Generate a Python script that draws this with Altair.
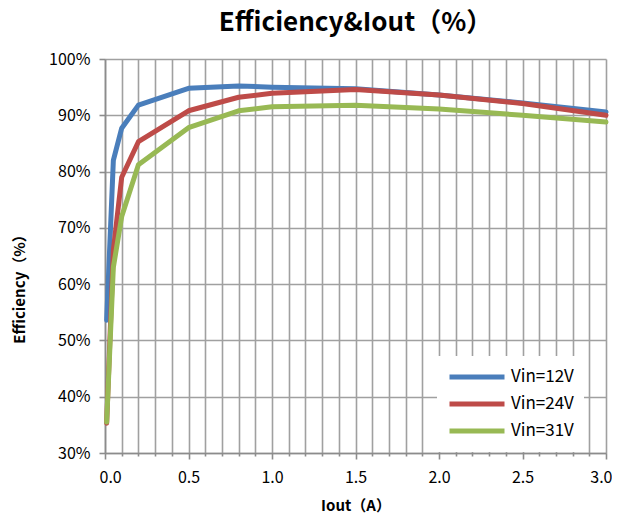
import altair as alt
import pandas as pd

iout = [0.01, 0.05, 0.1, 0.2, 0.5, 0.8, 1.0, 1.5, 2.0, 2.5, 3.0]
eff_12v = [53.6, 82.0, 87.7, 91.8, 94.8, 95.2, 95.0, 94.7, 93.6, 92.2, 90.6]
eff_24v = [35.3, 66.0, 79.0, 85.3, 90.8, 93.2, 93.9, 94.6, 93.6, 92.1, 90.0]
eff_31v = [35.5, 63.0, 72.0, 81.2, 87.8, 90.8, 91.5, 91.8, 91.1, 90.0, 88.8]
series = ["Vin=12V", "Vin=24V", "Vin=31V"]
colors = ["#4A7EBB", "#BE4B48", "#98B954"]

x_ticks = [round(i * 0.1, 1) for i in range(31)]
y_ticks = [30, 40, 50, 60, 70, 80, 90, 100]

rows = []
for name, vals in zip(series, [eff_12v, eff_24v, eff_31v]):
    for xv, yv in zip(iout, vals):
        rows.append({"Iout": xv, "Eff": yv, "Series": name})
df = pd.DataFrame(rows)

FONT = "Noto Sans CJK SC"
GRID = "#A0A0A0"

chart = alt.Chart(df).mark_line(strokeWidth=5, strokeCap="round", strokeJoin="round").encode(
    x=alt.X("Iout:Q",
            scale=alt.Scale(domain=[0, 3], nice=False, zero=False),
            axis=alt.Axis(values=x_ticks,
                          labelExpr="abs(datum.value*2 - round(datum.value*2)) < 0.001 ? format(datum.value, '.1f') : ''",
                          title="Iout（A）",
                          grid=True, gridColor=GRID, gridWidth=1.6,
                          domainColor="#8C8C8C", domainWidth=1.6,
                          tickColor="#8C8C8C", tickWidth=1.6,
                          tickSize={"condition": {"test": "abs(datum.value*2 - round(datum.value*2)) < 0.001", "value": 6}, "value": 3},
                          labelFont=FONT, labelFontSize=16, labelColor="#000000", labelPadding=10,
                          labelFlush=True, labelFlushOffset=6, labelOverlap=False,
                          titleFont=FONT, titleFontSize=15, titleFontWeight="bold", titleColor="#000000",
                          titlePadding=13)),
    y=alt.Y("Eff:Q",
            scale=alt.Scale(domain=[30, 100], nice=False, zero=False),
            axis=alt.Axis(values=y_ticks,
                          labelExpr="datum.value + '%'",
                          title="Efficiency（%）",
                          grid=True, gridColor=GRID, gridWidth=1.6,
                          domainColor="#8C8C8C", domainWidth=1.6,
                          tickColor="#8C8C8C", tickWidth=1.6, tickSize=6,
                          labelFont=FONT, labelFontSize=16, labelColor="#000000", labelPadding=9,
                          labelFlush=False,
                          titleFont=FONT, titleFontSize=15, titleFontWeight="bold", titleColor="#000000",
                          titleX=-78, titleY=226, titleAlign="center")),
    color=alt.Color("Series:N",
                    scale=alt.Scale(domain=series, range=colors),
                    legend=alt.Legend(title=None, orient="none", legendX=332, legendY=297,
                                      symbolType="stroke", symbolSize=3025, symbolStrokeWidth=5,
                                      clipHeight=22, rowPadding=5, labelOffset=4,
                                      labelFont=FONT, labelFontSize=17, labelColor="#000000",
                                      fillColor="#FFFFFF", padding=10)),
).properties(
    width=501,
    height=394,
    padding={"left": 97, "top": 51, "right": 6, "bottom": 62},
    autosize="none",
    title=alt.Title("Efficiency&Iout（%）", font=FONT, fontSize=26, fontWeight="bold",
                    color="#000000", anchor="middle", offset=15),
).configure_view(stroke=None)

chart.save("out.html", embed_options={"renderer": "svg", "actions": False})
